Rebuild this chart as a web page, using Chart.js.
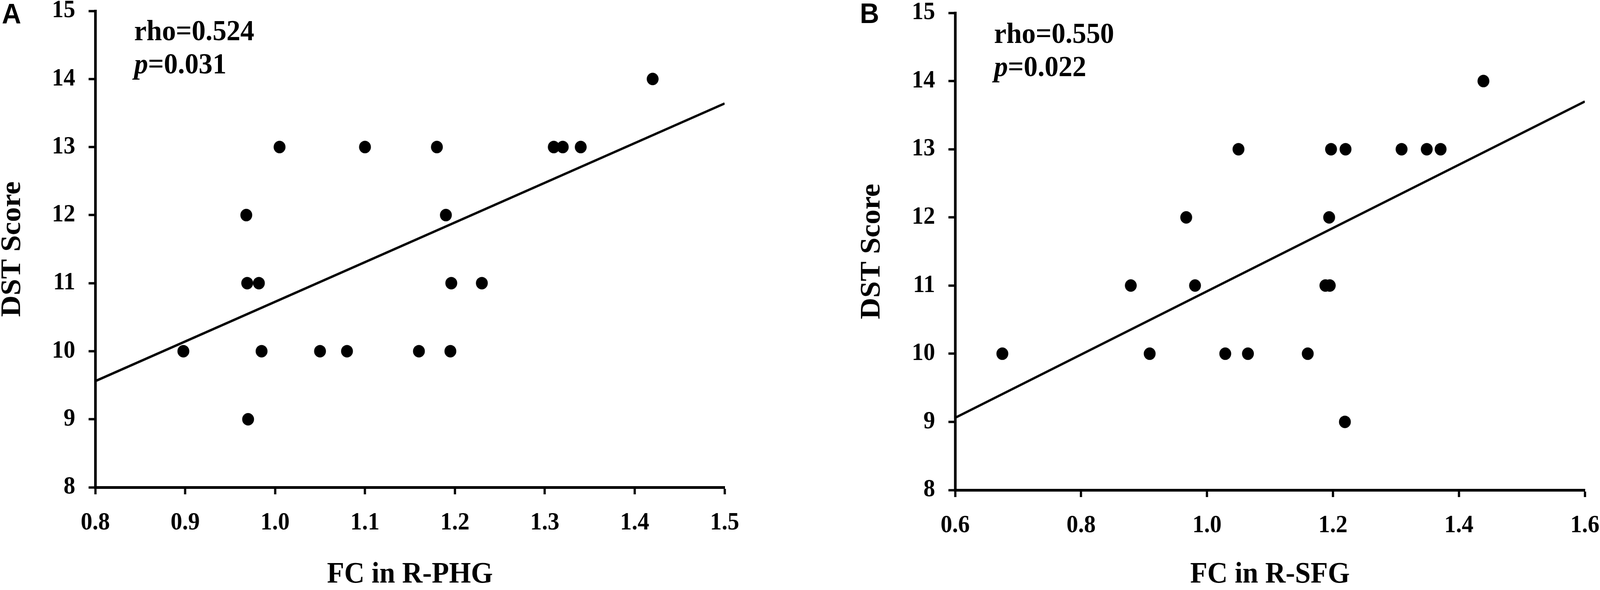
<!DOCTYPE html>
<html>
<head>
<meta charset="utf-8">
<script src="https://cdn.jsdelivr.net/npm/chart.js@4.4.1/dist/chart.umd.min.js"></script>
<style>
  html { margin: 0; background: #fff; overflow: hidden; }
  body { margin: 0; width: 4317px; height: 1511px; background: #fff; position: relative; overflow: hidden; transform-origin: 0 0; }
  canvas { position: absolute; top: 0; }
  #phg-canvas { left: 0; }
  #sfg-canvas { left: 2150px; }
  .panel-label { position: absolute; font-family: "Liberation Sans", Arial, sans-serif; font-weight: bold; font-size: 72px; line-height: 72px; }
  .stats { position: absolute; font-family: "Liberation Serif", "Times New Roman", serif; font-weight: bold; font-size: 75px; line-height: 85px; white-space: nowrap; }
</style>
</head>
<body>
<div class="panel-label" style="left:5px; top:-1px;">A</div>
<div class="panel-label" style="left:2320px; top:-2px;">B</div>
<div class="stats" style="left:362px; top:35px;">rho=0.524<br><i>p</i>=0.031</div>
<div class="stats" style="left:2682px; top:42px;">rho=0.550<br><i>p</i>=0.022</div>
<canvas id="phg-canvas" width="2150" height="1511"></canvas>
<canvas id="sfg-canvas" width="2167" height="1511"></canvas>
<script>
// panel A: FC in R-PHG vs DST score
const phgX = [0.898, 0.968, 0.969, 0.982, 0.985, 0.970, 1.005, 1.050, 1.080, 1.100,
              1.160, 1.180, 1.190, 1.195, 1.196, 1.230, 1.310, 1.320, 1.340, 1.420];
const phgY = [10, 12, 11, 11, 10, 9, 13, 10, 10, 13,
              10, 13, 12, 10, 11, 11, 13, 13, 13, 14];
const phgFitX = [0.8, 1.5];
const phgFitY = [9.56, 13.64];
const phgTicksX = [0.8, 0.9, 1.0, 1.1, 1.2, 1.3, 1.4, 1.5];

// panel B: FC in R-SFG vs DST score
const sfgX = [0.675, 0.879, 0.909, 0.967, 0.981, 1.029, 1.050, 1.065, 1.160, 1.188,
              1.195, 1.194, 1.197, 1.220, 1.219, 1.309, 1.349, 1.371, 1.439];
const sfgY = [10, 11, 10, 12, 11, 10, 13, 10, 10, 11,
              11, 12, 13, 13, 9, 13, 13, 13, 14];
const sfgFitX = [0.6, 1.6];
const sfgFitY = [9.06, 13.70];
const sfgTicksX = [0.6, 0.8, 1.0, 1.2, 1.4, 1.6];

const scoreTicks = [8, 9, 10, 11, 12, 13, 14, 15];

const serif = '"Liberation Serif", "Times New Roman", serif';

// the browser window can come out narrower than 4317px, squeeze the page to fit it
const sx = Math.min(1, (window.innerWidth || 4317) / 4317);
document.body.style.transform = "scale(" + sx + ", 1)";

function toPoints(xs, ys) {
  return xs.map((x, i) => ({ x: x, y: ys[i] }));
}

function drawScatter(canvas, xs, ys, fitX, fitY, xTicks, xTitle, box) {
  new Chart(canvas, {
    type: "scatter",
    data: {
      datasets: [
        {
          data: toPoints(xs, ys),
          backgroundColor: "#000",
          borderWidth: 0,
          pointRadius: 16,
          pointHoverRadius: 16,
          order: 0,
        },
        {
          type: "line",
          data: toPoints(fitX, fitY),
          borderColor: "#000",
          borderWidth: 6,
          pointRadius: 0,
          fill: false,
          order: 1,
        },
      ],
    },
    options: {
      responsive: false,
      animation: false,
      devicePixelRatio: 1,
      layout: { padding: box.padding },
      plugins: { legend: { display: false }, tooltip: { enabled: false } },
      scales: {
        x: {
          type: "linear",
          min: xTicks[0],
          max: xTicks[xTicks.length - 1],
          afterBuildTicks: (s) => { s.ticks = xTicks.map((v) => ({ value: v })); },
          afterFit: (s) => {
            s.height = box.xHeight;
            s.paddingLeft = 0; s.paddingRight = 0;
          },
          border: { color: "#000", width: 7 },
          grid: { drawOnChartArea: false, drawTicks: true, tickLength: 18, tickWidth: 6, tickColor: "#000" },
          ticks: {
            color: "#000",
            padding: 36,
            maxRotation: 0,
            autoSkip: false,
            font: { family: serif, size: 63, weight: "bold" },
            callback: (v) => Number(v).toFixed(1),
          },
          title: {
            display: true,
            text: xTitle,
            color: "#000",
            padding: { top: 0, bottom: 1 },
            font: { family: serif, size: 76, weight: "bold", lineHeight: 1 },
          },
        },
        y: {
          type: "linear",
          min: scoreTicks[0],
          max: scoreTicks[scoreTicks.length - 1],
          afterBuildTicks: (s) => { s.ticks = scoreTicks.map((v) => ({ value: v })); },
          afterFit: (s) => {
            s.width = box.yWidth;
            s.paddingTop = 0; s.paddingBottom = 0;
          },
          border: { color: "#000", width: 7 },
          grid: { drawOnChartArea: false, drawTicks: true, tickLength: 18, tickWidth: 6, tickColor: "#000" },
          ticks: {
            color: "#000",
            padding: 36,
            autoSkip: false,
            font: { family: serif, size: 63, weight: "bold" },
          },
          title: {
            display: true,
            text: "DST Score",
            color: "#000",
            padding: { top: box.titlePad, bottom: 0 },
            font: { family: serif, size: 76, weight: "bold", lineHeight: 1 },
          },
        },
      },
    },
  });
}

drawScatter(document.querySelector("#phg-canvas"), phgX, phgY, phgFitX, phgFitY, phgTicksX, "FC in R-PHG",
  { padding: { left: 0, top: 28, right: 195, bottom: 0 }, yWidth: 257, xHeight: 263, titlePad: -4 });

drawScatter(document.querySelector("#sfg-canvas"), sfgX, sfgY, sfgFitX, sfgFitY, sfgTicksX, "FC in R-SFG",
  { padding: { left: 165, top: 33, right: 41, bottom: 0 }, yWidth: 262, xHeight: 256, titlePad: 0 });
</script>
</body>
</html>
